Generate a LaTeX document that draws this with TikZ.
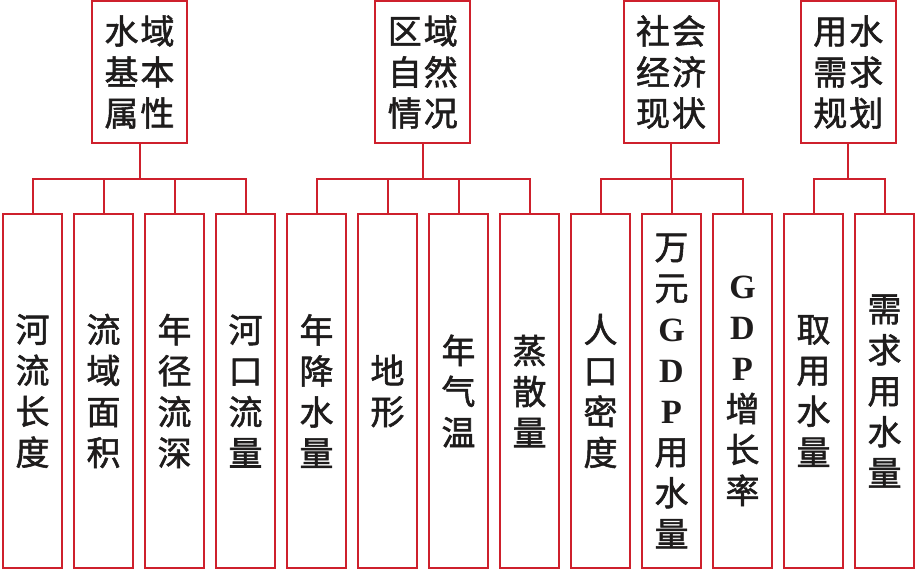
\documentclass[tikz,border=0pt]{standalone}
\usepackage{fontspec}
\newfontfamily\cjk{Noto Sans CJK SC}[FakeBold=1.6]
\newfontfamily\latf{Liberation Serif}
\newcommand{\gdp}[1]{{\latf\bfseries #1}}
\definecolor{boxred}{RGB}{206,32,44}
\definecolor{ink}{RGB}{30,28,28}
\begin{document}
\begin{tikzpicture}[x=1pt,y=-1pt,
  box/.style={draw=boxred, line width=2pt, rectangle, inner sep=0pt, text=ink,
    font=\cjk\fontsize{34}{41}\selectfont, align=center},
  topbox/.style={box, minimum width=95pt, minimum height=142pt},
  leafbox/.style={box, minimum width=59pt, minimum height=354pt},
  link/.style={draw=boxred, line width=2pt}]
\useasboundingbox (0,0) rectangle (917,571);
% top boxes
\node[topbox] (t1) at (139.5,72) {水\hspace{2pt}域\\基\hspace{2pt}本\\属\hspace{2pt}性};
\node[topbox] (t2) at (422.8,72) {区\hspace{2pt}域\\自\hspace{2pt}然\\情\hspace{2pt}况};
\node[topbox] (t3) at (671,72) {社\hspace{2pt}会\\经\hspace{2pt}济\\现\hspace{2pt}状};
\node[topbox] (t4) at (848.3,72) {用\hspace{2pt}水\\需\hspace{2pt}求\\规\hspace{2pt}划};
% leaf boxes
\node[leafbox] (c1) at (32.5,391) {河\\流\\长\\度};
\node[leafbox] (c2) at (103.5,391) {流\\域\\面\\积};
\node[leafbox] (c3) at (174.5,391) {年\\径\\流\\深};
\node[leafbox] (c4) at (245.5,391) {河\\口\\流\\量};
\node[leafbox] (c5) at (316.5,391) {年\\降\\水\\量};
\node[leafbox] (c6) at (387.5,391) {地\\形};
\node[leafbox] (c7) at (458.5,391) {年\\气\\温};
\node[leafbox] (c8) at (529.5,391) {蒸\\散\\量};
\node[leafbox] (c9) at (600.5,391) {人\\口\\密\\度};
\node[leafbox] (c10) at (671.5,391) {万\\元\\\gdp{G}\\\gdp{D}\\\gdp{P}\\用\\水\\量};
\node[leafbox] (c11) at (742.5,391) {\gdp{G}\\\gdp{D}\\\gdp{P}\\增\\长\\率};
\node[leafbox] (c12) at (813.5,391) {取\\用\\水\\量};
\node[leafbox] (c13) at (884.5,391) {需\\求\\用\\水\\量};
% connectors
\coordinate (b1) at (t1.south |- 0,179);
\coordinate (b2) at (t2.south |- 0,179);
\coordinate (b3) at (t3.south |- 0,179);
\coordinate (b4) at (t4.south |- 0,179);
\draw[link] (t1.south) -- (b1);
\draw[link] (t2.south) -- (b2);
\draw[link] (t3.south) -- (b3);
\draw[link] (t4.south) -- (b4);
\draw[link] (c1.north) |- (b1) -| (c4.north);
\draw[link] (c2.north) -- (c2.north |- b1);
\draw[link] (c3.north) -- (c3.north |- b1);
\draw[link] (c5.north) |- (b2) -| (c8.north);
\draw[link] (c6.north) -- (c6.north |- b2);
\draw[link] (c7.north) -- (c7.north |- b2);
\draw[link] (c9.north) |- (b3) -| (c11.north);
\draw[link] (c10.north) -- (c10.north |- b3);
\draw[link] (c12.north) |- (b4) -| (c13.north);
\end{tikzpicture}
\end{document}
